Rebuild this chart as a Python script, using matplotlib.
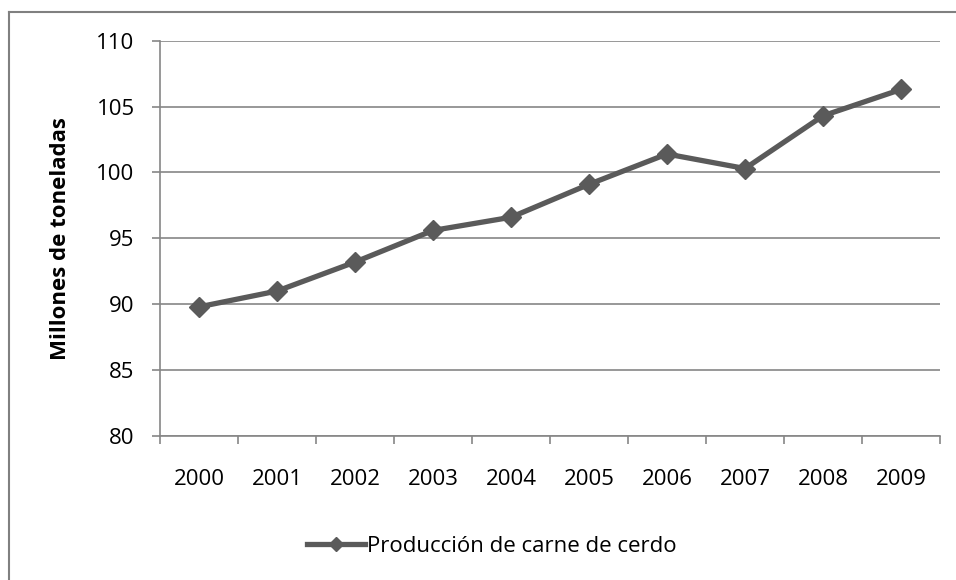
import matplotlib
matplotlib.use('Agg')
import matplotlib.pyplot as plt
from matplotlib.lines import Line2D
from matplotlib.ticker import FixedLocator, NullFormatter
import numpy as np

# data
years = ['2000', '2001', '2002', '2003', '2004', '2005', '2006', '2007', '2008', '2009']
produccion = [89.8, 91.0, 93.2, 95.6, 96.6, 99.1, 101.4, 100.3, 104.3, 106.3]
serie_label = 'Producción de carne de cerdo'
y_label = 'Millones de toneladas'
y_ticks = [80, 85, 90, 95, 100, 105, 110]

plt.rcParams['font.family'] = ['Open Sans', 'DejaVu Sans']
fsize = 16
line_col = '#5a5a5a'
grid_col = '#868686'

W, H = 956, 580
fig = plt.figure(figsize=(W / 100, H / 100), dpi=100)
ax = fig.add_axes([160 / W, 1 - 436 / H, 780 / W, (436 - 40.7) / H])

x = np.arange(len(years))
ax.plot(x, produccion, color=line_col, lw=3.8, marker='D', ms=10.5,
        markeredgecolor=line_col, markerfacecolor=line_col, label=serie_label,
        solid_joinstyle='round', zorder=3)

ax.set_xlim(-0.5, len(years) - 0.5)
ax.set_ylim(80, 110)
ax.set_yticks(y_ticks)
ax.yaxis.grid(True, color=grid_col, lw=1.2)
ax.set_axisbelow(True)

# category axis: ticks between categories, labels at centres
ax.xaxis.set_major_locator(FixedLocator(np.arange(len(years) + 1) - 0.5))
ax.xaxis.set_major_formatter(NullFormatter())
ax.xaxis.set_minor_locator(FixedLocator(x))
ax.set_xticklabels(years, minor=True, fontsize=fsize)
ax.tick_params(axis='x', which='major', length=5.8, width=1.2, color=grid_col, direction='out')
ax.tick_params(axis='x', which='minor', length=0, pad=24)
ax.tick_params(axis='y', length=5.8, width=1.2, color=grid_col, labelsize=fsize, pad=12.5)

for s in ['top', 'right']:
    ax.spines[s].set_visible(False)
for s in ['left', 'bottom']:
    ax.spines[s].set_color(grid_col)
    ax.spines[s].set_linewidth(1.2)

ax.set_ylabel(y_label, fontsize=fsize, fontweight='bold')
ax.yaxis.set_label_coords((71 - 160) / 780, 0.5)

fig.legend(loc='center', bbox_to_anchor=(492 / W, 1 - 546 / H), frameon=False,
           fontsize=fsize, handlelength=2.6, handletextpad=0.1, markerscale=0.7)

# chart border (only top and left visible in the crop)
bx, by = 8.5 / W, 1 - 11.5 / H
fig.add_artist(Line2D([bx, bx], [0, by], transform=fig.transFigure, color='#808080', lw=1.5))
fig.add_artist(Line2D([bx, 1], [by, by], transform=fig.transFigure, color='#808080', lw=1.5))

fig.savefig('out.png', dpi=100)
